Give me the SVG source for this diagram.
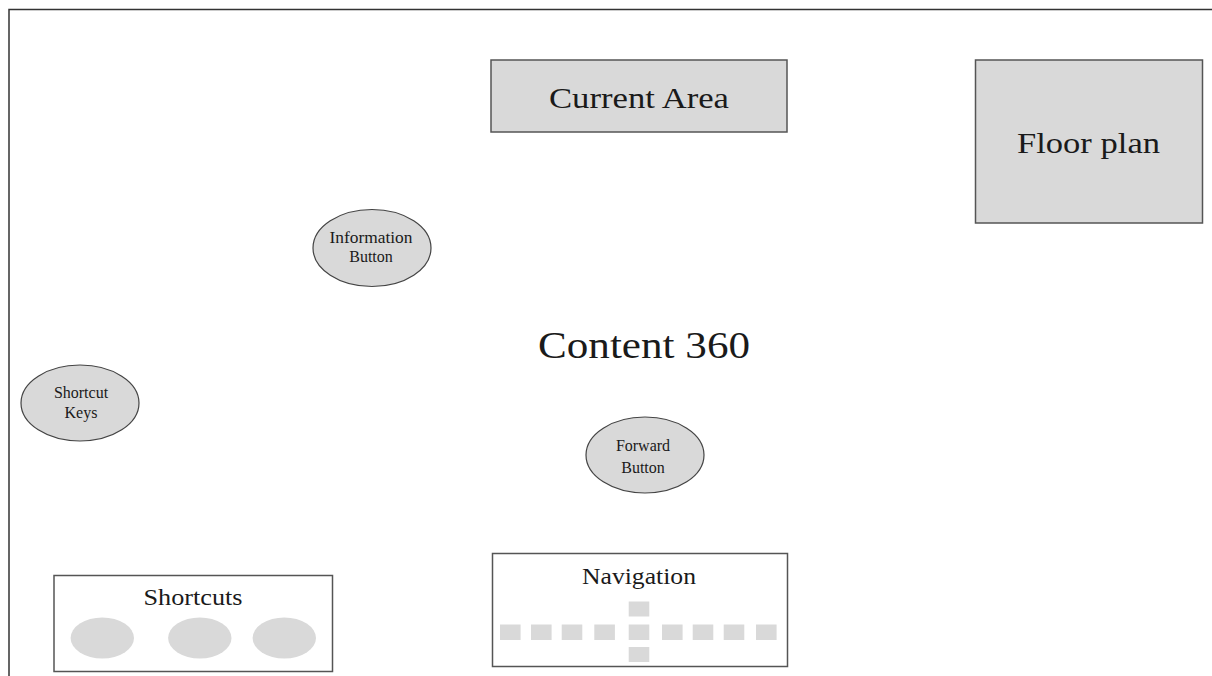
<svg xmlns="http://www.w3.org/2000/svg" width="1212" height="676" viewBox="0 0 1212 676">
<style>
.frame{fill:none;stroke:#333;stroke-width:1.5}
.box{fill:#d9d9d9;stroke:#555;stroke-width:1.5}
.wbox{fill:#fff;stroke:#555;stroke-width:1.5}
.ell{fill:#d9d9d9;stroke:#444;stroke-width:1.2}
.blob{fill:#d9d9d9;stroke:none}
text{font-family:"Liberation Serif","Times New Roman",serif;fill:#1a1a1a;text-anchor:middle}
.big{font-size:30px}
.mid{font-size:23px}
.small{font-size:16px}
</style>
<rect width="1212" height="676" fill="#fff"/>
<path class="frame" d="M9,680 V9.5 H1215"/>
<g id="connectors"/>
<g id="current-area">
<rect class="box" x="491" y="60" width="296" height="72"/>
<text class="big" x="639" y="108" textLength="180" lengthAdjust="spacingAndGlyphs">Current Area</text>
</g>
<g id="floor-plan">
<rect class="box" x="975.5" y="60" width="227" height="163"/>
<text class="big" x="1088.5" y="153" textLength="143" lengthAdjust="spacingAndGlyphs">Floor plan</text>
</g>
<g id="information-button">
<ellipse class="ell" cx="372" cy="248" rx="59" ry="38.5"/>
<text class="small" x="371" y="243" textLength="83" lengthAdjust="spacingAndGlyphs">Information</text>
<text class="small" x="371" y="262">Button</text>
</g>
<g id="content-360">
<text x="644" y="358" font-size="38" textLength="212" lengthAdjust="spacingAndGlyphs">Content 360</text>
</g>
<g id="shortcut-keys">
<ellipse class="ell" cx="80" cy="403" rx="59" ry="38"/>
<text class="small" x="81" y="398">Shortcut</text>
<text class="small" x="81" y="418">Keys</text>
</g>
<g id="forward-button">
<ellipse class="ell" cx="645" cy="455" rx="59" ry="38"/>
<text class="small" x="643" y="451">Forward</text>
<text class="small" x="643" y="473">Button</text>
</g>
<g id="navigation">
<rect class="wbox" x="492.5" y="553.5" width="295" height="113"/>
<text class="mid" x="639" y="584" textLength="114" lengthAdjust="spacingAndGlyphs">Navigation</text>
<rect class="blob" x="628.7" y="601.5" width="20.6" height="15"/>
<rect class="blob" x="628.7" y="647" width="20.6" height="15"/>
<rect class="blob" x="500" y="624.5" width="20.6" height="15.5"/>
<rect class="blob" x="531" y="624.5" width="20.6" height="15.5"/>
<rect class="blob" x="561.7" y="624.5" width="20.6" height="15.5"/>
<rect class="blob" x="594.3" y="624.5" width="20.6" height="15.5"/>
<rect class="blob" x="628.7" y="624.5" width="20.6" height="15.5"/>
<rect class="blob" x="662" y="624.5" width="20.6" height="15.5"/>
<rect class="blob" x="692.7" y="624.5" width="20.6" height="15.5"/>
<rect class="blob" x="723.7" y="624.5" width="20.6" height="15.5"/>
<rect class="blob" x="756" y="624.5" width="20.6" height="15.5"/>
</g>
<g id="shortcuts">
<rect class="wbox" x="54" y="575.5" width="278.5" height="96"/>
<text class="mid" x="193" y="605" textLength="99" lengthAdjust="spacingAndGlyphs">Shortcuts</text>
<ellipse class="blob" cx="102.3" cy="638" rx="31.7" ry="20.5"/>
<ellipse class="blob" cx="199.8" cy="638" rx="31.7" ry="20.5"/>
<ellipse class="blob" cx="284.3" cy="638" rx="31.7" ry="20.5"/>
</g>
</svg>
